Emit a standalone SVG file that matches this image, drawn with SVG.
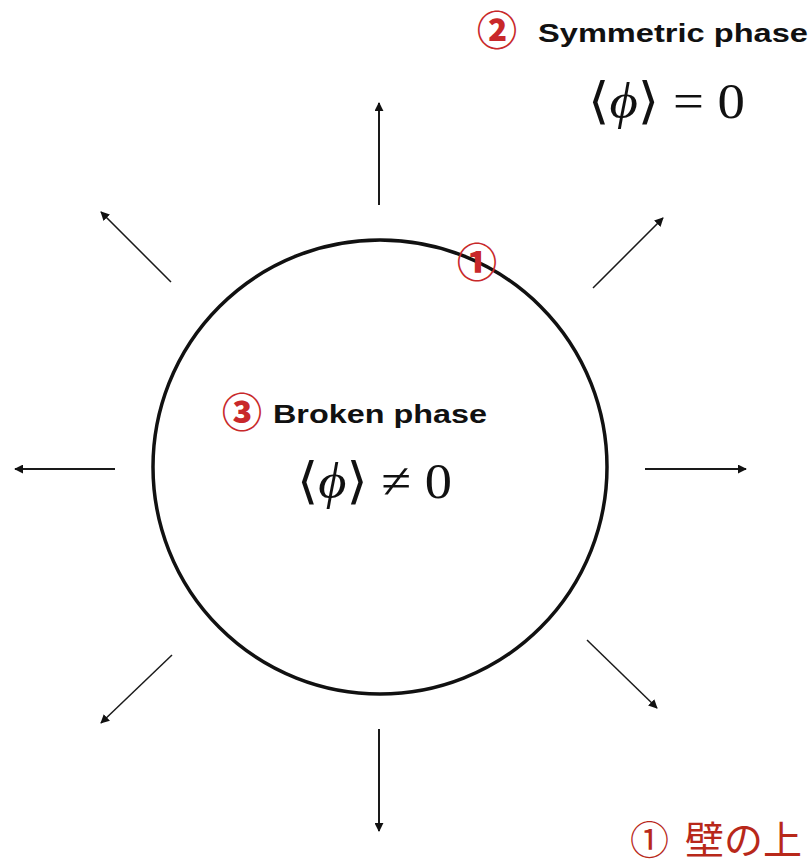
<svg xmlns="http://www.w3.org/2000/svg" width="812" height="866" viewBox="0 0 812 866">
<style>
.lbl{font-family:"Liberation Sans","Noto Sans",sans-serif;font-weight:bold;fill:#111}
.num{font-family:"Noto Sans CJK JP","DejaVu Sans",sans-serif;fill:#c8282a;font-weight:900}
.math{font-family:"Liberation Serif","DejaVu Serif",serif;fill:#111}
.br{font-family:"DejaVu Serif","DejaVu Sans",serif;font-weight:200}
.ar{stroke:#1a1a1a;fill:none}
.jp{font-family:"Noto Sans CJK JP",sans-serif;fill:#b8281a}
</style>
<defs>
<marker id="ah" viewBox="0 0 10 10" refX="9" refY="5" markerWidth="9" markerHeight="9" markerUnits="userSpaceOnUse" orient="auto">
<path d="M0,0 L10,5 L0,10 z" fill="#111"/>
</marker>
</defs>
<rect width="812" height="866" fill="#fff"/>
<g id="wall">
<circle cx="380" cy="467" r="227" fill="none" stroke="#111" stroke-width="3.5"/>
</g>
<g id="connectors">
<line class="ar" x1="379" y1="205" x2="379" y2="103" stroke-width="2" marker-end="url(#ah)"/>
<line class="ar" x1="379" y1="729" x2="379" y2="831" stroke-width="2" marker-end="url(#ah)"/>
<line class="ar" x1="115" y1="469" x2="15" y2="469" stroke-width="2" marker-end="url(#ah)"/>
<line class="ar" x1="645" y1="469" x2="746" y2="469" stroke-width="2" marker-end="url(#ah)"/>
<line class="ar" x1="171" y1="282" x2="101" y2="212" stroke-width="1.5" marker-end="url(#ah)"/>
<line class="ar" x1="593" y1="288" x2="663" y2="218" stroke-width="1.5" marker-end="url(#ah)"/>
<line class="ar" x1="172" y1="655" x2="101" y2="723" stroke-width="1.5" marker-end="url(#ah)"/>
<line class="ar" x1="587" y1="640" x2="657" y2="708" stroke-width="1.5" marker-end="url(#ah)"/>
</g>
<g id="wall-label">
<text class="num" x="477" y="277" font-size="40" font-weight="normal" text-anchor="middle">①</text>
</g>
<g id="symmetric">
<text class="num" x="497" y="45" font-size="40" text-anchor="middle">②</text>
<text class="lbl" x="538" y="42" font-size="25" textLength="270" lengthAdjust="spacingAndGlyphs">Symmetric phase</text>
<text class="math" x="588" y="118" font-size="50" textLength="157" lengthAdjust="spacingAndGlyphs"><tspan class="br">⟨</tspan><tspan font-style="italic">ϕ</tspan><tspan class="br">⟩</tspan> = 0</text>
</g>
<g id="broken">
<text class="num" x="242" y="427" font-size="40" text-anchor="middle">③</text>
<text class="lbl" x="273" y="423" font-size="25" textLength="214" lengthAdjust="spacingAndGlyphs">Broken phase</text>
<text class="math" x="297" y="498" font-size="50" textLength="155" lengthAdjust="spacingAndGlyphs"><tspan class="br">⟨</tspan><tspan font-style="italic">ϕ</tspan><tspan class="br">⟩</tspan> ≠ 0</text>
</g>
<g id="note">
<text class="jp" x="630" y="854" font-size="39">①</text>
<text class="jp" x="685" y="854" font-size="39">壁の上</text>
</g>
</svg>
